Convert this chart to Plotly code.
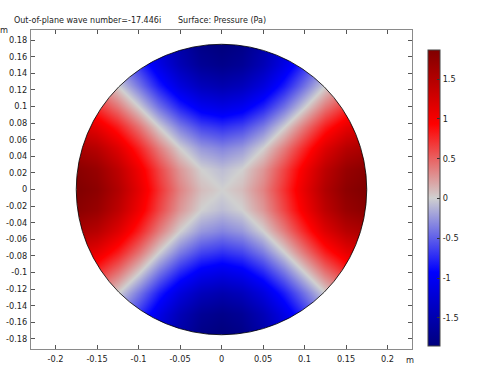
import numpy as np
import plotly.graph_objects as go

# ---- data (pressure, Pa) on a 0.025 m grid ----
grid_x = [-0.175, -0.15, -0.125, -0.1, -0.075, -0.05, -0.025, 0.0,
          0.025, 0.05, 0.075, 0.1, 0.125, 0.15, 0.175]
grid_y = list(grid_x)

r7 = [0.00, -0.21, -0.52, -0.89, -1.26, -1.57, -1.79, -1.86, -1.79, -1.57, -1.26, -0.89, -0.52, -0.21, 0.00]
r6 = [0.21, 0.00, -0.32, -0.71, -1.11, -1.45, -1.68, -1.76, -1.68, -1.45, -1.11, -0.71, -0.32, 0.00, 0.21]
r5 = [0.52, 0.32, 0.00, -0.40, -0.81, -1.17, -1.41, -1.50, -1.41, -1.17, -0.81, -0.40, 0.00, 0.32, 0.52]
r4 = [0.89, 0.71, 0.40, 0.00, -0.42, -0.78, -1.03, -1.12, -1.03, -0.78, -0.42, 0.00, 0.40, 0.71, 0.89]
r3 = [1.26, 1.11, 0.81, 0.42, 0.00, -0.37, -0.62, -0.71, -0.62, -0.37, 0.00, 0.42, 0.81, 1.11, 1.26]
r2 = [1.57, 1.45, 1.17, 0.78, 0.37, 0.00, -0.25, -0.34, -0.25, 0.00, 0.37, 0.78, 1.17, 1.45, 1.57]
r1 = [1.79, 1.68, 1.41, 1.03, 0.62, 0.25, 0.00, -0.09, 0.00, 0.25, 0.62, 1.03, 1.41, 1.68, 1.79]
r0 = [1.86, 1.76, 1.50, 1.12, 0.71, 0.34, 0.09, 0.00, 0.09, 0.34, 0.71, 1.12, 1.50, 1.76, 1.86]
pressure = [r7, r6, r5, r4, r3, r2, r1, r0, r1, r2, r3, r4, r5, r6, r7]

p_min, p_max = -1.86, 1.86
duct_radius = 0.175

x_ticks = [-0.2, -0.15, -0.1, -0.05, 0, 0.05, 0.1, 0.15, 0.2]
x_tick_text = ["-0.2", "-0.15", "-0.1", "-0.05", "0", "0.05", "0.1", "0.15", "0.2"]
y_ticks = [-0.18, -0.16, -0.14, -0.12, -0.1, -0.08, -0.06, -0.04, -0.02, 0,
           0.02, 0.04, 0.06, 0.08, 0.1, 0.12, 0.14, 0.16, 0.18]
y_tick_text = ["-0.18", "-0.16", "-0.14", "-0.12", "-0.1", "-0.08", "-0.06", "-0.04", "-0.02", "0",
               "0.02", "0.04", "0.06", "0.08", "0.1", "0.12", "0.14", "0.16", "0.18"]
cb_ticks = [-1.5, -1, -0.5, 0, 0.5, 1, 1.5]
cb_tick_text = ["-1.5", "-1", "-0.5", "0", "0.5", "1", "1.5"]

title_left = "Out-of-plane wave number=-17.446i"
title_right = "Surface: Pressure (Pa)"

# ---- figure ----
W, H = 485, 369
L, R, T, B = 31, 73, 30, 20
pw, ph = W - L - R, H - T - B
scale = 830.0  # px per metre (equal aspect)
xr = pw / scale / 2
yr = ph / scale / 2

wave = [
    [0.0, "rgb(0,0,125)"],
    [0.25, "rgb(0,0,255)"],
    [0.5, "rgb(208,208,208)"],
    [0.75, "rgb(255,0,0)"],
    [1.0, "rgb(128,0,0)"],
]

cb_top_px, cb_len_px = 50.5, 296
tick_font = dict(family="DejaVu Sans", size=8.2, color="#222")

fig = go.Figure()
fig.add_trace(go.Heatmap(
    x=grid_x, y=grid_y, z=pressure, zmin=p_min, zmax=p_max,
    zsmooth="best", colorscale=wave, hoverinfo="skip",
    colorbar=dict(
        x=(428 - L) / pw, xanchor="left", xpad=0,
        y=(H - B - cb_top_px) / ph, yanchor="top", ypad=0,
        len=cb_len_px / ph, lenmode="fraction", thickness=12, thicknessmode="pixels",
        outlinewidth=1, outlinecolor="#444", borderwidth=0,
        tickvals=cb_ticks, ticktext=cb_tick_text,
        ticks="inside", ticklen=3, tickcolor="#333",
        tickfont=tick_font,
    ),
))

# white mask outside the duct cross-section (drawn as a trace so axes stay on top)
th = np.linspace(0, -2 * np.pi, 721)
big = 0.4
mx = [big, big, -big, -big, big, big] + list(duct_radius * np.cos(th)) + [big]
my = [0, big, big, -big, -big, 0] + list(duct_radius * np.sin(th)) + [0]
fig.add_trace(go.Scatter(x=mx, y=my, mode="lines", fill="toself",
                         fillcolor="white", line=dict(width=0, color="white"),
                         hoverinfo="skip", showlegend=False))

fig.add_shape(type="circle", xref="x", yref="y",
              x0=-duct_radius, y0=-duct_radius, x1=duct_radius, y1=duct_radius,
              line=dict(color="black", width=0.8))

axis_common = dict(
    showgrid=False, zeroline=False, showline=True, linecolor="#8a8a8a", linewidth=1.2,
    mirror="ticks", ticks="inside", ticklen=4, tickcolor="#555", tickwidth=1,
    tickfont=tick_font, automargin=False,
)
fig.update_xaxes(range=[-xr, xr], tickvals=x_ticks, ticktext=x_tick_text, **axis_common)
fig.update_yaxes(range=[-yr, yr], tickvals=y_ticks, ticktext=y_tick_text, **axis_common)
try:
    fig.update_xaxes(ticklabelstandoff=2)
    fig.update_yaxes(ticklabelstandoff=1)
except Exception:
    pass

def px2paper(px, py):
    return (px - L) / pw, (H - B - py) / ph

font = dict(family="DejaVu Sans", size=8.2, color="#222")
tfont = dict(family="DejaVu Sans", size=8.0, color="#222")
ann = []
ax_, ay_ = px2paper(12, 20.5)
ann.append(dict(text=title_left, x=ax_, y=ay_, xanchor="left", yanchor="middle", font=tfont))
ax_, ay_ = px2paper(176, 20.5)
ann.append(dict(text=title_right, x=ax_, y=ay_, xanchor="left", yanchor="middle", font=tfont))
ax_, ay_ = px2paper(4.5, 30.5)
ann.append(dict(text="m", x=ax_, y=ay_, xanchor="center", yanchor="middle", font=font))
ax_, ay_ = px2paper(410, 360)
ann.append(dict(text="m", x=ax_, y=ay_, xanchor="center", yanchor="middle", font=font))
for a in ann:
    a.update(xref="paper", yref="paper", showarrow=False)

fig.update_layout(
    width=W, height=H, margin=dict(l=L, r=R, t=T, b=B, autoexpand=False),
    paper_bgcolor="white", plot_bgcolor="white",
    annotations=ann, showlegend=False,
)

fig.write_html("out.html")
